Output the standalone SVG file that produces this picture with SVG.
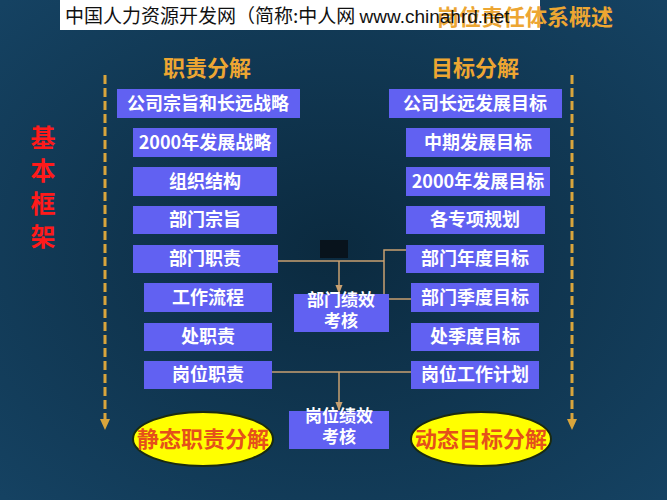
<svg xmlns="http://www.w3.org/2000/svg" width="667" height="500" viewBox="0 0 667 500">
<defs>
<radialGradient id="bg" cx="0.5" cy="0.5" r="0.7">
<stop offset="0" stop-color="#0b2a3f"/>
<stop offset="1" stop-color="#154262"/>
</radialGradient>
<marker id="arr" viewBox="0 0 10 10" refX="9" refY="5" markerWidth="6" markerHeight="6" orient="auto">
<path d="M0,1 L10,5 L0,9 Z" fill="#c8a070"/>
</marker>
<style>
.box{fill:#6161f2;}
.bt{font-family:"Noto Sans CJK SC","Noto Sans",sans-serif;font-size:18px;font-weight:bold;fill:#ffffff;text-anchor:middle;}
.ct{font-family:"Noto Sans CJK SC","Noto Sans",sans-serif;font-size:17px;font-weight:bold;fill:#ffffff;text-anchor:middle;}
.hd{font-family:"Noto Sans CJK SC",sans-serif;font-size:22px;font-weight:bold;fill:#eda632;text-anchor:middle;}
.con{stroke:#c8a070;stroke-width:1.5;fill:none;}
.dash{stroke:#d9a53c;stroke-width:3;stroke-dasharray:9 4;fill:none;}
.ell{fill:#ffff00;stroke:#1a2a10;stroke-width:2;}
.et{font-family:"Noto Sans CJK SC",sans-serif;font-size:22px;font-weight:bold;fill:#e5501a;text-anchor:middle;}
.red{font-family:"Noto Sans CJK SC",sans-serif;font-size:25px;font-weight:bold;fill:#ff1a1a;text-anchor:middle;}
</style>
</defs>
<rect x="0" y="0" width="667" height="500" fill="url(#bg)"/>

<!-- banner -->
<rect x="60" y="0" width="480" height="30" fill="#ffffff"/>
<text x="437" y="25" font-family="Noto Sans CJK SC,sans-serif" font-size="22" font-weight="bold" fill="#eda632">岗位责任体系概述</text>
<text x="65" y="23" font-family="Noto Sans CJK SC,Liberation Sans,sans-serif" font-size="19" fill="#111111">中国人力资源开发网（简称:中人网 <tspan font-family="Liberation Sans,sans-serif">www.chinahrd.net</tspan></text>

<!-- side label -->
<g id="side-label">
<text class="red" x="43" y="147">基</text>
<text class="red" x="43" y="180">本</text>
<text class="red" x="43" y="213">框</text>
<text class="red" x="43" y="246">架</text>
</g>

<!-- headers -->
<text class="hd" x="207" y="76">职责分解</text>
<text class="hd" x="475" y="76">目标分解</text>

<!-- dashed arrows -->
<g id="dashed">
<line class="dash" x1="105" y1="75" x2="105" y2="420"/>
<path d="M100,419 L110,419 L105,430 Z" fill="#d9a53c"/>
<line class="dash" x1="572" y1="75" x2="572" y2="420"/>
<path d="M567,419 L577,419 L572,430 Z" fill="#d9a53c"/>
</g>

<rect x="320" y="240" width="28" height="18" fill="#08131c"/>

<!-- connectors -->
<g id="connectors">
<line class="con" x1="278" y1="261" x2="384" y2="261"/>
<polyline class="con" points="406,250 384,250 384,299 411,299"/>
<line class="con" x1="339" y1="261" x2="339" y2="293" marker-end="url(#arr)"/>
<line class="con" x1="262" y1="372" x2="411" y2="372"/>
<line class="con" x1="339" y1="372" x2="339" y2="410" marker-end="url(#arr)"/>
</g>

<!-- left column -->
<g id="l1"><rect class="box" x="117" y="89" width="183" height="29"/><text class="bt" x="208" y="110">公司宗旨和长远战略</text></g>
<g id="l2"><rect class="box" x="133" y="128" width="144" height="29"/><text class="bt" x="205" y="149">2000年发展战略</text></g>
<g id="l3"><rect class="box" x="133" y="167" width="144" height="29"/><text class="bt" x="205" y="188">组织结构</text></g>
<g id="l4"><rect class="box" x="133" y="206" width="144" height="28"/><text class="bt" x="205" y="226">部门宗旨</text></g>
<g id="l5"><rect class="box" x="133" y="245" width="145" height="28"/><text class="bt" x="205" y="265">部门职责</text></g>
<g id="l6"><rect class="box" x="144" y="283" width="128" height="29"/><text class="bt" x="208" y="304">工作流程</text></g>
<g id="l7"><rect class="box" x="144" y="323" width="128" height="28"/><text class="bt" x="208" y="343">处职责</text></g>
<g id="l8"><rect class="box" x="144" y="361" width="128" height="28"/><text class="bt" x="208" y="381">岗位职责</text></g>

<!-- right column -->
<g id="r1"><rect class="box" x="389" y="89" width="173" height="29"/><text class="bt" x="475" y="110">公司长远发展目标</text></g>
<g id="r2"><rect class="box" x="406" y="128" width="144" height="29"/><text class="bt" x="478" y="149">中期发展目标</text></g>
<g id="r3"><rect class="box" x="406" y="167" width="144" height="29"/><text class="bt" x="478" y="188">2000年发展目标</text></g>
<g id="r4"><rect class="box" x="406" y="206" width="139" height="28"/><text class="bt" x="475" y="226">各专项规划</text></g>
<g id="r5"><rect class="box" x="406" y="245" width="138" height="28"/><text class="bt" x="475" y="265">部门年度目标</text></g>
<g id="r6"><rect class="box" x="411" y="283" width="128" height="29"/><text class="bt" x="475" y="304">部门季度目标</text></g>
<g id="r7"><rect class="box" x="411" y="323" width="128" height="28"/><text class="bt" x="475" y="343">处季度目标</text></g>
<g id="r8"><rect class="box" x="411" y="361" width="128" height="28"/><text class="bt" x="475" y="381">岗位工作计划</text></g>

<!-- center -->
<g id="c1"><rect class="box" x="294" y="294" width="95" height="38"/><text class="ct" x="341" y="306">部门绩效</text><text class="ct" x="341" y="327">考核</text></g>
<g id="c2"><rect class="box" x="289" y="411" width="100" height="38"/><text class="ct" x="339" y="422">岗位绩效</text><text class="ct" x="339" y="443">考核</text></g>

<!-- ellipses -->
<g id="e1"><ellipse class="ell" cx="203" cy="439" rx="70" ry="27"/><text class="et" x="203" y="447">静态职责分解</text></g>
<g id="e2"><ellipse class="ell" cx="481" cy="439" rx="70" ry="27"/><text class="et" x="481" y="447">动态目标分解</text></g>
</svg>
